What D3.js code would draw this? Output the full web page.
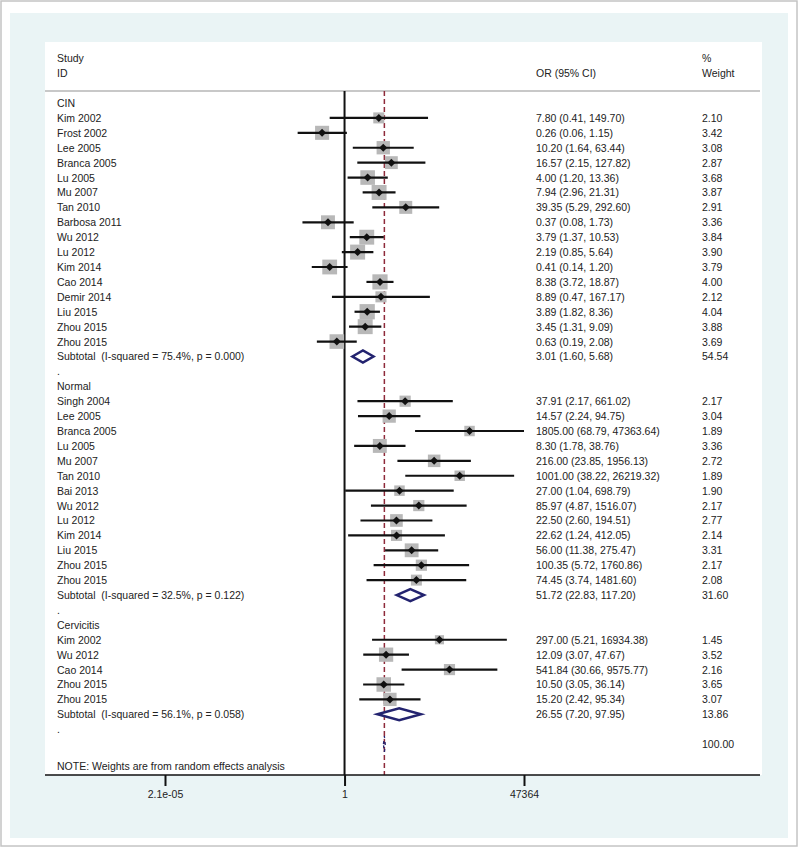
<!DOCTYPE html>
<html>
<head>
<meta charset="utf-8">
<script src="https://cdn.jsdelivr.net/npm/d3@7"></script>
<style>
  body { margin: 0; background: #fff; }
  svg { display: block; font-family: "Liberation Sans", Arial, sans-serif; }
  .lbl { font-size: 10.5px; fill: #222; white-space: pre; }
  .axis text { font-size: 10.5px; fill: #222; font-family: "Liberation Sans", Arial, sans-serif; }
  .axis line { stroke: #111; stroke-width: 2; }
</style>
</head>
<body>
<div id="chart"></div>
<script>
// study level data
const groups = ['CIN', 'Normal', 'Cervicitis'];
const studyGroup = [
    0, 0, 0, 0, 0, 0, 0, 0, 0, 0, 0, 0, 0, 0, 0, 0,
    1, 1, 1, 1, 1, 1, 1, 1, 1, 1, 1, 1, 1,
    2, 2, 2, 2, 2
];
const studyNames = [
    'Kim 2002', 'Frost 2002', 'Lee 2005', 'Branca 2005', 'Lu 2005', 'Mu 2007', 'Tan 2010', 'Barbosa 2011',
    'Wu 2012', 'Lu 2012', 'Kim 2014', 'Cao 2014', 'Demir 2014', 'Liu 2015', 'Zhou 2015', 'Zhou 2015',
    'Singh 2004', 'Lee 2005', 'Branca 2005', 'Lu 2005', 'Mu 2007', 'Tan 2010', 'Bai 2013', 'Wu 2012',
    'Lu 2012', 'Kim 2014', 'Liu 2015', 'Zhou 2015', 'Zhou 2015',
    'Kim 2002', 'Wu 2012', 'Cao 2014', 'Zhou 2015', 'Zhou 2015'
];
const orValues = [
    7.80, 0.26, 10.20, 16.57, 4.00, 7.94, 39.35, 0.37, 3.79, 2.19, 0.41, 8.38, 8.89, 3.89, 3.45, 0.63,
    37.91, 14.57, 1805.00, 8.30, 216.00, 1001.00, 27.00, 85.97, 22.50, 22.62, 56.00, 100.35, 74.45,
    297.00, 12.09, 541.84, 10.50, 15.20
];
const ciLower = [
    0.41, 0.06, 1.64, 2.15, 1.20, 2.96, 5.29, 0.08, 1.37, 0.85, 0.14, 3.72, 0.47, 1.82, 1.31, 0.19,
    2.17, 2.24, 68.79, 1.78, 23.85, 38.22, 1.04, 4.87, 2.60, 1.24, 11.38, 5.72, 3.74,
    5.21, 3.07, 30.66, 3.05, 2.42
];
const ciUpper = [
    149.70, 1.15, 63.44, 127.82, 13.36, 21.31, 292.60, 1.73, 10.53, 5.64, 1.20, 18.87, 167.17, 8.36, 9.09, 2.08,
    661.02, 94.75, 47363.64, 38.76, 1956.13, 26219.32, 698.79, 1516.07, 194.51, 412.05, 275.47, 1760.86, 1481.60,
    16934.38, 47.67, 9575.77, 36.14, 95.34
];
const weights = [
    2.10, 3.42, 3.08, 2.87, 3.68, 3.87, 2.91, 3.36, 3.84, 3.90, 3.79, 4.00, 2.12, 4.04, 3.88, 3.69,
    2.17, 3.04, 1.89, 3.36, 2.72, 1.89, 1.90, 2.17, 2.77, 2.14, 3.31, 2.17, 2.08,
    1.45, 3.52, 2.16, 3.65, 3.07
];

// subtotals per group
const subtotalI2 = ['75.4', '32.5', '56.1'];
const subtotalP = ['0.000', '0.122', '0.058'];
const subtotalOR = [3.01, 51.72, 26.55];
const subtotalLower = [1.60, 22.83, 7.20];
const subtotalUpper = [5.68, 117.20, 97.95];
const subtotalWeight = [54.54, 31.60, 13.86];

// overall estimate (no numbers printed)
const overallOR = 10.9, overallLower = 10.3, overallUpper = 11.5;
const overallWeight = 100.00;

// axis ticks
const tickValues = [2.1e-05, 1, 47364];
const tickLabels = ['2.1e-05', '1', '47364'];

const W = 799, H = 851,
    panel = {left: 45, top: 42, right: 762, bottom: 775},
    headerLineY = 91,
    labelX = 57, orX = 536, weightX = 702,
    rowStep = 14.91,
    fmt = d3.format('.2f');

// build the rows table from the arrays
let rows = [], r = 0;
groups.forEach((g, gi) => {
    rows.push({type: 'header', row: r++, label: g});
    studyNames.forEach((name, i) => {
        if (studyGroup[i] !== gi) return;
        rows.push({type: 'study', row: r++, label: name, or: orValues[i], lo: ciLower[i],
            hi: ciUpper[i], w: weights[i]});
    });
    rows.push({type: 'subtotal', row: r++,
        label: `Subtotal  (I-squared = ${subtotalI2[gi]}%, p = ${subtotalP[gi]})`,
        or: subtotalOR[gi], lo: subtotalLower[gi], hi: subtotalUpper[gi], w: subtotalWeight[gi]});
    rows.push({type: 'dot', row: r++, label: '.'});
});
rows.push({type: 'overall', row: r++, label: '', or: overallOR, lo: overallLower, hi: overallUpper, w: overallWeight});
const noteRow = r + 0.5;

// scales
let xScale = d3.scaleLog()
        .domain([tickValues[0], tickValues[2]])
        .range([165, 524]),
    yScale = d3.scaleLinear()
        .domain([0, 1])
        .range([103, 103 + rowStep]),
    boxSize = d3.scaleSqrt()
        .domain([0, 4])
        .range([0, 15.2]);

const svg = d3.select('#chart')
    .append('svg')
    .attr('width', W)
    .attr('height', H);

// frame, light background, white plot panel
svg.append('rect')
    .attr('x', 1).attr('y', 1)
    .attr('width', W - 3).attr('height', H - 6)
    .attr('fill', '#fff')
    .attr('stroke', '#c4c4c4')
    .attr('stroke-width', 1.5);

svg.append('rect')
    .attr('x', 10).attr('y', 13)
    .attr('width', 778).attr('height', 825)
    .attr('fill', '#eaf4f5');

svg.append('rect')
    .attr('x', panel.left).attr('y', panel.top)
    .attr('width', panel.right - panel.left).attr('height', panel.bottom - panel.top)
    .attr('fill', '#fff');

// column headers
const head = svg.append('g').attr('class', 'lbl');
head.append('text').attr('class', 'lbl').attr('x', labelX).attr('y', 62).text('Study');
head.append('text').attr('class', 'lbl').attr('x', labelX).attr('y', 77).text('ID');
head.append('text').attr('class', 'lbl').attr('x', orX).attr('y', 77).text('OR (95% CI)');
head.append('text').attr('class', 'lbl').attr('x', weightX).attr('y', 62).text('%');
head.append('text').attr('class', 'lbl').attr('x', weightX).attr('y', 77).text('Weight');

svg.append('line')
    .attr('x1', panel.left).attr('x2', panel.right - 2)
    .attr('y1', headerLineY).attr('y2', headerLineY)
    .attr('stroke', '#c8c8c8')
    .attr('stroke-width', 2);

// null line at OR = 1
svg.append('line')
    .attr('x1', xScale(1)).attr('x2', xScale(1))
    .attr('y1', headerLineY).attr('y2', panel.bottom)
    .attr('stroke', '#111')
    .attr('stroke-width', 2);

// overall effect dashed line
svg.append('line')
    .attr('x1', xScale(overallOR)).attr('x2', xScale(overallOR))
    .attr('y1', headerLineY).attr('y2', panel.bottom)
    .attr('stroke', '#8e2a3a')
    .attr('stroke-width', 1.5)
    .attr('stroke-dasharray', '5,3');

const studies = rows.filter(d => d.type === 'study');

// weight boxes
svg.selectAll('rect.box')
    .data(studies).enter()
    .append('rect')
    .classed('box', true)
    .attr('x', d => xScale(d.or) - boxSize(d.w) / 2)
    .attr('y', d => yScale(d.row) - boxSize(d.w) / 2)
    .attr('width', d => boxSize(d.w))
    .attr('height', d => boxSize(d.w))
    .attr('fill', '#b8b8b8');

// confidence intervals
svg.selectAll('line.ci')
    .data(studies).enter()
    .append('line')
    .classed('ci', true)
    .attr('x1', d => xScale(d.lo))
    .attr('x2', d => xScale(d.hi))
    .attr('y1', d => yScale(d.row))
    .attr('y2', d => yScale(d.row))
    .attr('stroke', '#111')
    .attr('stroke-width', 2.2);

// point estimates
svg.selectAll('path.pt')
    .data(studies).enter()
    .append('path')
    .classed('pt', true)
    .attr('d', d => {
        let x = xScale(d.or), y = yScale(d.row), s = 4;
        return `M${x - s},${y}L${x},${y - s}L${x + s},${y}L${x},${y + s}Z`;
    })
    .attr('fill', '#111');

// subtotal diamonds
const diamond = (d, h) => {
    let y = yScale(d.row);
    return `M${xScale(d.lo)},${y}L${xScale(d.or)},${y - h}L${xScale(d.hi)},${y}L${xScale(d.or)},${y + h}Z`;
};

svg.selectAll('path.sub')
    .data(rows.filter(d => d.type === 'subtotal')).enter()
    .append('path')
    .classed('sub', true)
    .attr('d', d => diamond(d, 6))
    .attr('fill', '#fff')
    .attr('stroke', '#23236f')
    .attr('stroke-width', 2.5);

// overall diamond, very narrow
svg.selectAll('path.overall')
    .data(rows.filter(d => d.type === 'overall')).enter()
    .append('path')
    .classed('overall', true)
    .attr('d', d => diamond(d, 8))
    .attr('fill', 'none')
    .attr('stroke', '#23236f')
    .attr('stroke-width', 1.3)
    .attr('stroke-dasharray', '3,4');

// row labels
svg.selectAll('text.row')
    .data(rows).enter()
    .append('text')
    .attr('class', 'lbl row')
    .attr('x', labelX)
    .attr('y', d => yScale(d.row) + 4)
    .text(d => d.label);

// OR (95% CI) column
svg.selectAll('text.orc')
    .data(rows.filter(d => d.type === 'study' || d.type === 'subtotal')).enter()
    .append('text')
    .attr('class', 'lbl orc')
    .attr('x', orX)
    .attr('y', d => yScale(d.row) + 4)
    .text(d => `${fmt(d.or)} (${fmt(d.lo)}, ${fmt(d.hi)})`);

// weight column
svg.selectAll('text.wt')
    .data(rows.filter(d => d.w != null)).enter()
    .append('text')
    .attr('class', 'lbl wt')
    .attr('x', weightX)
    .attr('y', d => yScale(d.row) + 4)
    .text(d => fmt(d.w));

svg.append('text')
    .attr('class', 'lbl')
    .attr('x', labelX)
    .attr('y', yScale(noteRow) + 4)
    .text('NOTE: Weights are from random effects analysis');

// x axis
const axis = svg.append('g')
    .attr('class', 'axis')
    .attr('transform', `translate(0,${panel.bottom})`)
    .call(d3.axisBottom(xScale)
        .tickValues(tickValues)
        .tickFormat((d, i) => tickLabels[i])
        .tickSize(11)
        .tickPadding(5));
axis.select('.domain').remove();

svg.append('line')
    .attr('x1', panel.left).attr('x2', panel.right - 2)
    .attr('y1', panel.bottom).attr('y2', panel.bottom)
    .attr('stroke', '#111')
    .attr('stroke-width', 1.5);
</script>
</body>
</html>
